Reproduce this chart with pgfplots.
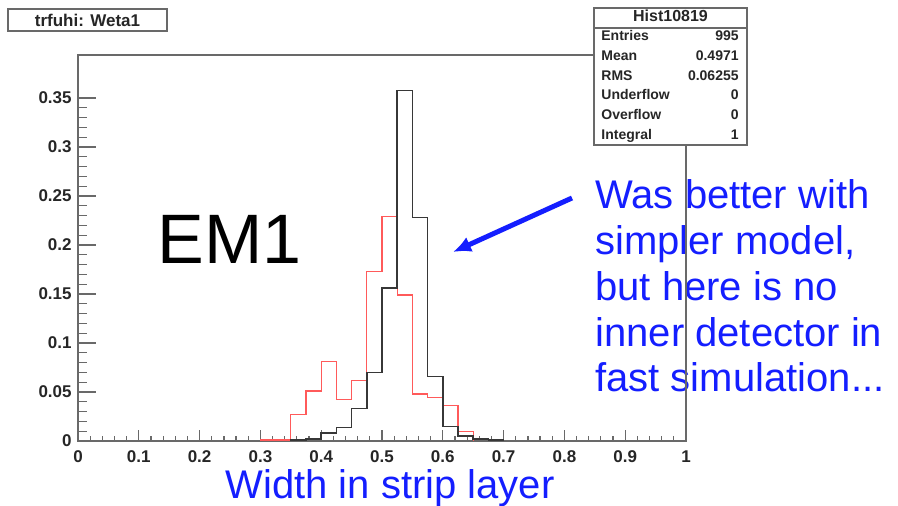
\documentclass[border=0pt]{standalone}
\usepackage{pgfplots}
\pgfplotsset{compat=1.18}
\usepackage{fontspec}
\setmainfont{Liberation Sans}
\usetikzlibrary{arrows.meta}

\definecolor{framegray}{RGB}{105,105,105}
\definecolor{histblack}{RGB}{55,55,55}
\definecolor{histred}{RGB}{255,90,90}
\definecolor{noteblue}{RGB}{20,30,255}

\begin{document}
\begin{tikzpicture}[x=0.5pt,y=-0.5pt]
\useasboundingbox (0,0) rectangle (898,506);
\coordinate (axo) at (78,441);

% annotation text (drawn first, the frame crosses it)
\begin{scope}[every node/.style={inner sep=0pt, text=noteblue, font=\fontsize{20}{23}\selectfont, anchor=base west}]
  \node at (595,209) {Was better with};
  \node at (595,255) {simpler model,};
  \node at (595,301) {but here is no};
  \node at (595,347) {inner detector in};
  \node at (595,392) {fast simulation...};
\end{scope}

% x ticks and labels
\begin{axis}[
  at={(axo)}, anchor=south west,
  scale only axis, width=304pt, height=193pt,
  xmin=0, xmax=1, ymin=0, ymax=0.394,
  axis line style={draw=none},
  tick pos=left, tick align=inside,
  ytick=\empty,
  xtick={0,0.1,0.2,0.3,0.4,0.5,0.6,0.7,0.8,0.9,1},
  xticklabels={0,0.1,0.2,0.3,0.4,0.5,0.6,0.7,0.8,0.9,1},
  minor x tick num=4,
  major tick length=5.5pt, minor tick length=2.5pt,
  every tick/.style={draw=framegray, line width=0.6pt},
  xticklabel style={font=\fontsize{8.5}{9}\bfseries, text=black!85, yshift=-3.5pt, inner sep=1pt},
]
\end{axis}

% frame, y ticks and the two histograms
\begin{axis}[
  at={(axo)}, anchor=south west,
  scale only axis, width=304pt, height=193pt,
  xmin=0, xmax=1, ymin=0, ymax=0.394,
  axis line style={draw=framegray, line width=0.6pt},
  tick pos=left, tick align=inside,
  xtick=\empty,
  ytick={0,0.05,0.1,0.15,0.2,0.25,0.3,0.35},
  yticklabels={0,0.05,0.1,0.15,0.2,0.25,0.3,0.35},
  minor y tick num=4,
  major tick length=9pt, minor tick length=4.5pt,
  every tick/.style={draw=framegray, line width=0.6pt},
  yticklabel style={font=\fontsize{8.5}{9}\bfseries, text=black!85, inner sep=1pt, xshift=-2pt},
]
\addplot[const plot, draw=histred, line width=0.6pt] coordinates {
  (0.300,0) (0.300,0.001) (0.325,0.001) (0.350,0.027) (0.375,0.051)
  (0.400,0.081) (0.425,0.042) (0.450,0.062) (0.475,0.173) (0.500,0.229)
  (0.525,0.149) (0.550,0.048) (0.575,0.044) (0.600,0.036) (0.625,0.0095)
  (0.650,0)
};
\addplot[const plot, draw=histblack, line width=0.75pt] coordinates {
  (0.350,0) (0.350,0.001) (0.375,0.002) (0.400,0.008) (0.425,0.014)
  (0.450,0.033) (0.475,0.070) (0.500,0.156) (0.525,0.358) (0.550,0.228)
  (0.575,0.066) (0.600,0.015) (0.625,0.005) (0.650,0.002) (0.675,0.001)
  (0.700,0)
};
\end{axis}

% axis title
\node[inner sep=0pt, anchor=base, text=noteblue, font=\fontsize{20}{23}\selectfont] at (390,499) {Width in strip layer};

% big label
\node[inner sep=0pt, anchor=base west, font=\fontsize{35}{40}\selectfont] at (157,264) {EM1};

% arrow
\draw[noteblue, line width=2.5pt, -{Latex[length=9pt,width=8pt]}] (572,198) -- (453,252);

% title box
\draw[framegray, line width=0.6pt, fill=white] (8,9) rectangle (167,31);
\node[inner sep=0pt, font=\fontsize{8.5}{10}\bfseries, text=black!85] at (87.5,20) {trfuhi: Weta1};

% statistics box
\draw[framegray, line width=0.6pt, fill=white] (594,8) rectangle (747,145);
\draw[framegray, line width=0.6pt] (594,28) -- (747,28);
\node[inner sep=0pt, anchor=base, font=\fontsize{8}{10}\bfseries, text=black!85] at (670.5,22) {Hist10819};
\begin{scope}[every node/.style={inner sep=0pt, font=\fontsize{7}{9}\bfseries, text=black!85}]
  \node[anchor=base west] at (601,41) {Entries};    \node[anchor=base east] at (739,41) {995};
  \node[anchor=base west] at (601,60.7) {Mean};     \node[anchor=base east] at (739,60.7) {0.4971};
  \node[anchor=base west] at (601,80.4) {RMS};      \node[anchor=base east] at (739,80.4) {0.06255};
  \node[anchor=base west] at (601,100) {Underflow}; \node[anchor=base east] at (739,100) {0};
  \node[anchor=base west] at (601,119.8) {Overflow};\node[anchor=base east] at (739,119.8) {0};
  \node[anchor=base west] at (601,139.5) {Integral};\node[anchor=base east] at (739,139.5) {1};
\end{scope}
\end{tikzpicture}
\end{document}
